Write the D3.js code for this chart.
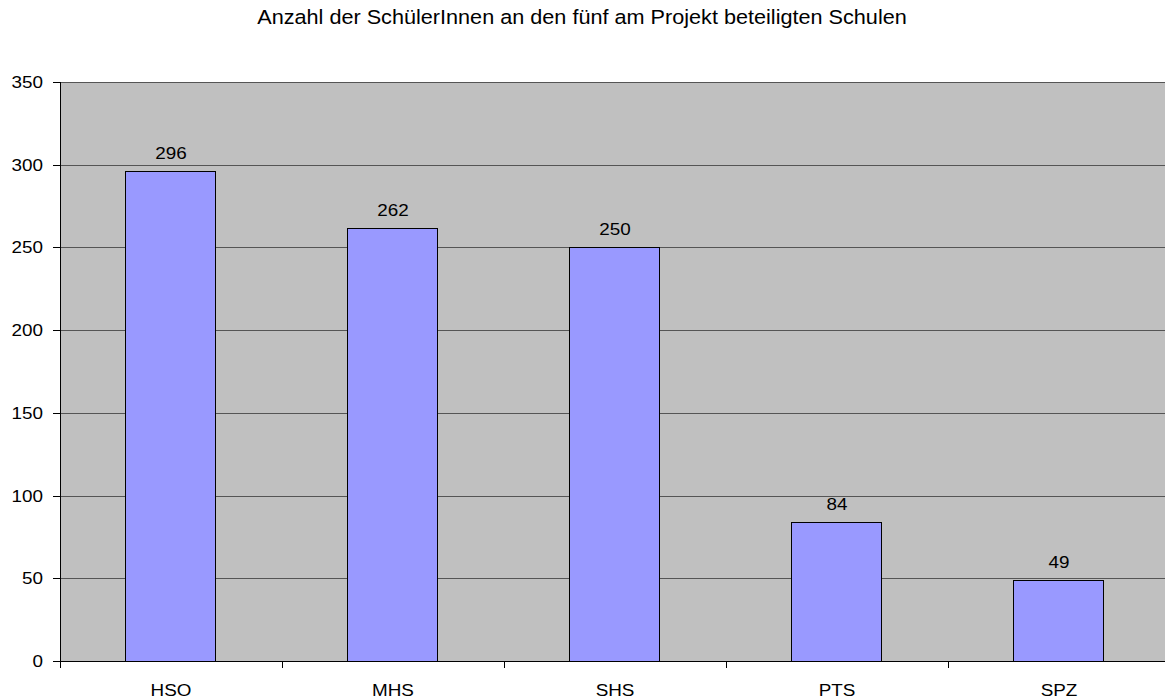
<!DOCTYPE html>
<html>
<head>
<meta charset="utf-8">
<script src="https://cdn.jsdelivr.net/npm/d3@7"></script>
<style>
  body { margin: 0; background: #fff; }
  text { font-family: "Liberation Sans", Arial, sans-serif; fill: #000; }
</style>
</head>
<body>
<svg id="chart" width="1165" height="700"></svg>
<script>
// Daten
const schulen = ["HSO", "MHS", "SHS", "PTS", "SPZ"];
const anzahl = [296, 262, 250, 84, 49];
const yTicks = [0, 50, 100, 150, 200, 250, 300, 350];
const titel = "Anzahl der SchülerInnen an den fünf am Projekt beteiligten Schulen";

const svg = d3.select("#chart");
const pLeft = 60, pRight = 1170, pTop = 82, pBottom = 661;
const sx = 1.11; // Schrift ist im Original etwas breit gezogen

const x = d3.scaleBand().domain(schulen).range([pLeft, pRight]).padding(0);
const y = d3.scaleLinear().domain([0, 350]).range([pBottom, pTop]);

function txt(g, px, py, s, size, anchor) {
  return g.append("text")
    .attr("transform", `translate(${px},${py}) scale(${sx},1)`)
    .attr("text-anchor", anchor || "middle")
    .attr("font-size", size)
    .text(s);
}

// Plotfläche
svg.append("rect")
  .attr("x", pLeft).attr("y", pTop)
  .attr("width", pRight - pLeft).attr("height", pBottom - pTop)
  .attr("fill", "#c0c0c0");

// Gitternetzlinien
svg.append("g").selectAll("line")
  .data(yTicks.filter(d => d > 0))
  .join("line")
  .attr("x1", pLeft).attr("x2", pRight)
  .attr("y1", d => Math.round(y(d)) + 0.5).attr("y2", d => Math.round(y(d)) + 0.5)
  .attr("stroke", "#555").attr("stroke-width", 1);

// Balken
const bw = x.bandwidth() * 0.4;
svg.append("g").selectAll("rect")
  .data(anzahl)
  .join("rect")
  .attr("x", (d, i) => Math.floor(x(schulen[i]) + (x.bandwidth() - bw) / 2) - 0.5)
  .attr("y", d => Math.round(y(d)) + 0.5)
  .attr("width", Math.round(bw) + 1)
  .attr("height", d => Math.round(y(0)) - Math.round(y(d)))
  .attr("fill", "#9999ff")
  .attr("stroke", "#000").attr("stroke-width", 1);

// Werte
const gw = svg.append("g");
anzahl.forEach((d, i) => txt(gw, x(schulen[i]) + x.bandwidth() / 2, y(d) - 12, d, 17));

// Y-Achse
const gy = svg.append("g");
gy.append("line").attr("x1", pLeft + 0.5).attr("x2", pLeft + 0.5)
  .attr("y1", pTop).attr("y2", pBottom + 7).attr("stroke", "#000");
yTicks.forEach(t => {
  const ty = Math.round(y(t)) + 0.5;
  gy.append("line").attr("x1", pLeft - 7).attr("x2", pLeft).attr("y1", ty).attr("y2", ty).attr("stroke", "#000");
  txt(gy, pLeft - 17, y(t) + 6, t, 17, "end");
});

// X-Achse
svg.append("line")
  .attr("x1", pLeft).attr("x2", pRight)
  .attr("y1", pBottom + 0.5).attr("y2", pBottom + 0.5)
  .attr("stroke", "#000");
svg.append("g").selectAll("line")
  .data(schulen.slice(1))
  .join("line")
  .attr("x1", d => Math.round(x(d)) + 0.5).attr("x2", d => Math.round(x(d)) + 0.5)
  .attr("y1", pBottom).attr("y2", pBottom + 7)
  .attr("stroke", "#000");
const gx = svg.append("g");
schulen.forEach(s => txt(gx, x(s) + x.bandwidth() / 2, pBottom + 35, s, 17));

// Titel
txt(svg, 582, 24, titel, 19.5);
</script>
</body>
</html>
